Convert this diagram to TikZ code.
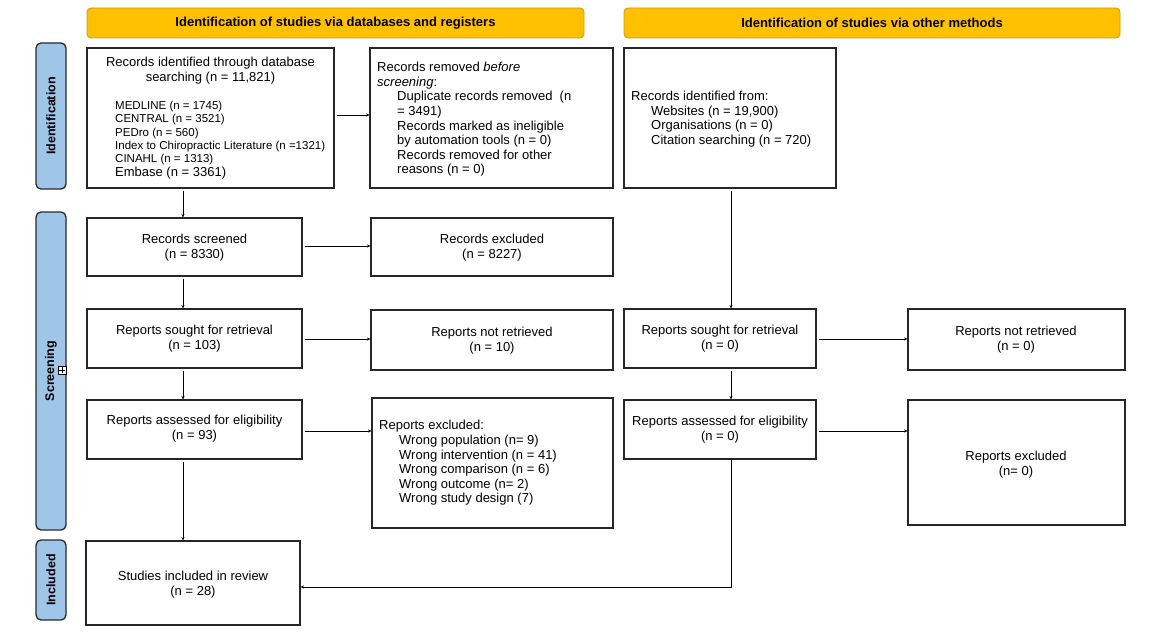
\documentclass[tikz,border=0pt]{standalone}
\usepackage{fontspec}
\setmainfont{Liberation Sans}
\usetikzlibrary{arrows.meta,calc}
\definecolor{hdrfill}{HTML}{FFC000}
\definecolor{hdrline}{HTML}{C99A12}
\definecolor{sidefill}{HTML}{9FC5E8}
\definecolor{sideline}{HTML}{2B2B2B}
\begin{document}
\begin{tikzpicture}[x=1pt,y=-1pt,
 box/.style={draw=black!85, line width=1.2pt, anchor=north west, inner sep=0pt, outer sep=0pt},
 hdr/.style={draw=hdrline, fill=hdrfill, rounded corners=4pt, line width=0.8pt, anchor=north west, inner sep=0pt, outer sep=0pt},
 hdrtxt/.style={font=\fontsize{13}{15}\selectfont\bfseries, inner sep=0pt},
 side/.style={draw=sideline, fill=sidefill, rounded corners=5pt, line width=1.3pt, anchor=north west, inner sep=0pt, outer sep=0pt},
 sidetxt/.style={rotate=90, font=\fontsize{12.5}{15}\selectfont\bfseries, inner sep=0pt},
 txt/.style={font=\fontsize{13}{14.8}\selectfont, align=center, inner sep=0pt, yshift=-1.5pt},
 ltxt/.style={font=\fontsize{13}{14.6}\selectfont, align=left, inner sep=0pt, anchor=west, yshift=-1.5pt},
 stxt/.style={font=\fontsize{11.5}{13.4}\selectfont, align=left, inner sep=0pt, anchor=west, yshift=-1.5pt},
 arr/.style={-{Stealth[length=3.5pt,width=3pt]}, line width=0.6pt, shorten <=2.5pt, shorten >=0.5pt}]
\useasboundingbox (0,0) rectangle (1160,634);
% headers
\node[hdr, minimum width=497pt, minimum height=30pt] (H1) at (87,8) {};
\node[hdrtxt] (H1t) at (H1.center) {Identification of studies via databases and registers};
\node[hdr, minimum width=496pt, minimum height=30pt] (H2) at (624,8) {};
\node[hdrtxt] (H2t) at (H2.center) {Identification of studies via other methods};
% side labels
\node[side, minimum width=30pt, minimum height=146pt] (S1) at (36,43) {};
\node[sidetxt] (S1t) at (S1.center) {Identification};
\node[side, minimum width=30pt, minimum height=318pt] (S2) at (36,212) {};
\node[sidetxt] (S2t) at (S2.center) {Screening};
\node[side, minimum width=30pt, minimum height=80pt] (S3) at (36,540) {};
\node[sidetxt] (S3t) at (S3.center) {Included};
% plus icon
\node[draw=black, fill=white, line width=0.5pt, minimum size=8pt, inner sep=0pt] (plus) at (62,370) {};
\draw[line width=0.5pt] ($(plus.west)+(1.5,0)$) -- ($(plus.east)+(-1.5,0)$);
\draw[line width=0.5pt] ($(plus.north)+(0,1.5)$) -- ($(plus.south)+(0,-1.5)$);
% boxes
\node[box, minimum width=247pt, minimum height=140pt] (A) at (87,48) {};
\node[box, minimum width=243pt, minimum height=140pt] (B) at (370,48) {};
\node[box, minimum width=212pt, minimum height=140pt] (C) at (624,48) {};
\node[box, minimum width=215pt, minimum height=58pt] (D) at (87,218) {};
\node[box, minimum width=242pt, minimum height=58pt] (E) at (371,218) {};
\node[box, minimum width=215pt, minimum height=59pt] (F) at (87,309) {};
\node[box, minimum width=242pt, minimum height=60pt] (G) at (371,310) {};
\node[box, minimum width=215pt, minimum height=59pt] (Hb) at (87,400) {};
\node[box, minimum width=241pt, minimum height=130pt] (I) at (372,398) {};
\node[box, minimum width=192pt, minimum height=59pt] (J) at (624,309) {};
\node[box, minimum width=217pt, minimum height=61pt] (K) at (908,309) {};
\node[box, minimum width=192pt, minimum height=59pt] (L) at (624,400) {};
\node[box, minimum width=217pt, minimum height=125pt] (M) at (908,400) {};
\node[box, minimum width=214pt, minimum height=84pt] (N) at (86,541) {};
% texts
\node[txt] (At) at (210.5,69.5) {Records identified through database\\searching (n = 11,821)};
\node[stxt] (Al) at (115,138.5) {MEDLINE (n = 1745)\\CENTRAL (n = 3521)\\PEDro (n = 560)\\Index to Chiropractic Literature (n =1321)\\CINAHL (n = 1313)\\{\fontsize{13}{14.8}\selectfont Embase (n = 3361)}};
\node[ltxt] (Bt) at (377,118) {Records removed \textit{before}\\\textit{screening}:\\\hspace*{20pt}Duplicate records removed\ \ (n\\\hspace*{20pt}= 3491)\\\hspace*{20pt}Records marked as ineligible\\\hspace*{20pt}by automation tools (n = 0)\\\hspace*{20pt}Records removed for other\\\hspace*{20pt}reasons (n = 0)};
\node[ltxt] (Ct) at (631,117.5) {Records identified from:\\\hspace*{20pt}Websites (n = 19,900)\\\hspace*{20pt}Organisations (n = 0)\\\hspace*{20pt}Citation searching (n = 720)};
\node[txt] (Dt) at (194.5,246.5) {Records screened\\(n = 8330)};
\node[txt] (Et) at (492,246.5) {Records excluded\\(n = 8227)};
\node[txt] (Ft) at (194.5,337.5) {Reports sought for retrieval\\(n = 103)};
\node[txt] (Gt) at (492,339.5) {Reports not retrieved\\(n = 10)};
\node[txt] (Ht) at (194.5,427.5) {Reports assessed for eligibility\\(n = 93)};
\node[ltxt] (It) at (379,461.5) {Reports excluded:\\\hspace*{20pt}Wrong population (n= 9)\\\hspace*{20pt}Wrong intervention (n = 41)\\\hspace*{20pt}Wrong comparison (n = 6)\\\hspace*{20pt}Wrong outcome (n= 2)\\\hspace*{20pt}Wrong study design (7)};
\node[txt] (Jt) at (720,337.5) {Reports sought for retrieval\\(n = 0)};
\node[txt] (Kt) at (1016,338.5) {Reports not retrieved\\(n = 0)};
\node[txt] (Lt) at (720,428.5) {Reports assessed for eligibility\\(n = 0)};
\node[txt] (Mt) at (1016,463.5) {Reports excluded\\(n= 0)};
\node[txt] (Nt) at (193,583) {Studies included in review\\(n = 28)};
% connectors
\coordinate (xl) at (183,0);
\coordinate (xr) at (731,0);
\coordinate (yAB) at (0,115);
\coordinate (yDE) at (0,246);
\coordinate (yFG) at (0,339);
\coordinate (yHI) at (0,431);
\coordinate (yN) at (0,587);
\draw[arr] (A.south -| xl) -- (D.north -| xl);
\draw[arr] (D.south -| xl) -- (F.north -| xl);
\draw[arr] (F.south -| xl) -- (Hb.north -| xl);
\draw[arr] (Hb.south -| xl) -- (N.north -| xl);
\draw[arr] (C.south -| xr) -- (J.north -| xr);
\draw[arr] (J.south -| xr) -- (L.north -| xr);
\draw[arr, shorten <=0pt] (L.south -| xr) -- (xr |- yN) -- (N.east |- yN);
\draw[arr] (A.east |- yAB) -- (B.west |- yAB);
\draw[arr] (D.east |- yDE) -- (E.west |- yDE);
\draw[arr] (F.east |- yFG) -- (G.west |- yFG);
\draw[arr] (Hb.east |- yHI) -- (I.west |- yHI);
\draw[arr] (J.east |- yFG) -- (K.west |- yFG);
\draw[arr] (L.east |- yHI) -- (M.west |- yHI);
\end{tikzpicture}
\end{document}
